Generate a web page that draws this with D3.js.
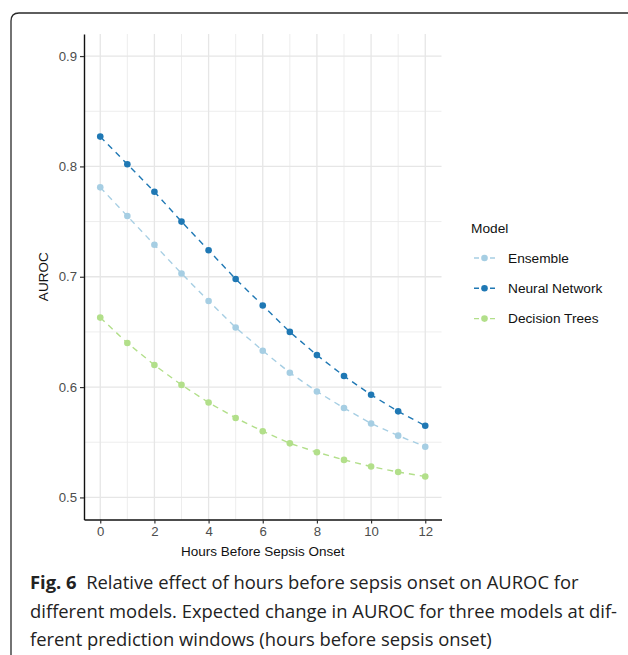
<!DOCTYPE html>
<html>
<head>
<meta charset="utf-8">
<script src="https://cdn.jsdelivr.net/npm/d3@7"></script>
<style>
  body { margin: 0; background: #fff; }
  svg { display: block; }
</style>
</head>
<body>
<div id="chart"></div>
<script>
// data
const hours = [0, 1, 2, 3, 4, 5, 6, 7, 8, 9, 10, 11, 12];
const models = ["Ensemble", "Neural Network", "Decision Trees"];
const ensemble = [0.781, 0.755, 0.729, 0.703, 0.678, 0.654, 0.633, 0.613, 0.596, 0.581, 0.567, 0.556, 0.546];
const neuralNetwork = [0.827, 0.802, 0.777, 0.750, 0.724, 0.698, 0.674, 0.650, 0.629, 0.610, 0.593, 0.578, 0.565];
const decisionTrees = [0.663, 0.640, 0.620, 0.602, 0.586, 0.572, 0.560, 0.549, 0.541, 0.534, 0.528, 0.523, 0.519];
const xTicks = [0, 2, 4, 6, 8, 10, 12];
const yTicks = [0.5, 0.6, 0.7, 0.8, 0.9];
const captionLines = [
  ["Fig. 6", "  Relative effect of hours before sepsis onset on AUROC for"],
  ["", "different models. Expected change in AUROC for three models at dif-"],
  ["", "ferent prediction windows (hours before sepsis onset)"]
];

const series = [ensemble, neuralNetwork, decisionTrees];
const colors = ["#a6cee3", "#1f78b4", "#b2df8a"];

const width = 628, height = 655;
const svg = d3.select("#chart").append("svg")
    .attr("width", width)
    .attr("height", height);

// outer frame (rounded top-left corner)
svg.append("path")
    .attr("d", "M11,660 L11,21 Q11,13 19,13 L630,13")
    .attr("fill", "none")
    .attr("stroke", "#2a2a2a")
    .attr("stroke-width", 1.3);

const font = "'Liberation Sans', Arial, sans-serif";

// scales, with the 5% expansion ggplot adds
const x = d3.scaleLinear().domain([-0.6, 12.6]).range([84, 441.5]);
const y = d3.scaleLinear().domain([0.48, 0.92]).range([519.5, 34]);

const grid = svg.append("g");
// minor grid
const xMinor = d3.range(1, 12, 2);
const yMinor = [0.55, 0.65, 0.75, 0.85];
grid.selectAll(".xminor").data(xMinor).enter().append("line")
    .attr("x1", d => x(d)).attr("x2", d => x(d))
    .attr("y1", y.range()[0]).attr("y2", y.range()[1])
    .attr("stroke", "#ebebeb").attr("stroke-width", 0.9);
grid.selectAll(".yminor").data(yMinor).enter().append("line")
    .attr("y1", d => y(d)).attr("y2", d => y(d))
    .attr("x1", x.range()[0]).attr("x2", x.range()[1])
    .attr("stroke", "#ebebeb").attr("stroke-width", 0.9);
// major grid
grid.selectAll(".xmajor").data(xTicks).enter().append("line")
    .attr("x1", d => x(d)).attr("x2", d => x(d))
    .attr("y1", y.range()[0]).attr("y2", y.range()[1])
    .attr("stroke", "#e6e6e6").attr("stroke-width", 1.3);
grid.selectAll(".ymajor").data(yTicks).enter().append("line")
    .attr("y1", d => y(d)).attr("y2", d => y(d))
    .attr("x1", x.range()[0]).attr("x2", x.range()[1])
    .attr("stroke", "#e6e6e6").attr("stroke-width", 1.3);

// axes
const xAxis = svg.append("g")
    .attr("transform", `translate(0,${y.range()[0]})`)
    .call(d3.axisBottom(x).tickValues(xTicks).tickSize(4).tickPadding(3).tickSizeOuter(0));
const yAxis = svg.append("g")
    .attr("transform", `translate(${x.range()[0]},0)`)
    .call(d3.axisLeft(y).tickValues(yTicks).tickSize(4).tickPadding(3).tickSizeOuter(0).tickFormat(d3.format(".1f")));

[xAxis, yAxis].forEach(a => {
  a.select(".domain").attr("stroke", "#111").attr("stroke-width", 1.4);
  a.selectAll(".tick line").attr("stroke", "#333").attr("stroke-width", 1.2);
  a.selectAll(".tick text").attr("fill", "#4d4d4d").style("font-family", font).style("font-size", "13.2px");
});

// axis titles
svg.append("text")
    .attr("x", (x(0) + x(12)) / 2).attr("y", 556)
    .attr("text-anchor", "middle")
    .style("font-family", font).style("font-size", "13.5px").attr("fill", "#111")
    .text("Hours Before Sepsis Onset");
svg.append("text")
    .attr("transform", `translate(48,${(y.range()[0] + y.range()[1]) / 2}) rotate(-90)`)
    .attr("text-anchor", "middle")
    .style("font-family", font).style("font-size", "13.5px").attr("fill", "#111")
    .text("AUROC");

// lines and points
const line = d3.line().x((d, i) => x(hours[i])).y(d => y(d));
series.forEach((s, k) => {
  svg.append("path")
      .datum(s)
      .attr("d", line)
      .attr("fill", "none")
      .attr("stroke", colors[k])
      .attr("stroke-width", 1.4)
      .attr("stroke-dasharray", "6,5");
});
series.forEach((s, k) => {
  svg.selectAll(null).data(s).enter().append("circle")
      .attr("cx", (d, i) => x(hours[i]))
      .attr("cy", d => y(d))
      .attr("r", 3.3)
      .attr("fill", colors[k]);
});

// legend
const legend = svg.append("g").attr("transform", "translate(471,0)");
legend.append("text")
    .attr("x", 0).attr("y", 233)
    .style("font-family", font).style("font-size", "13.7px").attr("fill", "#111")
    .text("Model");
const items = legend.selectAll(".item").data(models).enter().append("g")
    .attr("transform", (d, i) => `translate(0,${258 + i * 30.3})`);
items.append("line")
    .attr("x1", 3).attr("x2", 24).attr("y1", 0).attr("y2", 0)
    .attr("stroke", (d, i) => colors[i]).attr("stroke-width", 1.4)
    .attr("stroke-dasharray", "5,3");
items.append("circle")
    .attr("cx", 13.5).attr("cy", 0).attr("r", 3.3)
    .attr("fill", (d, i) => colors[i]);
items.append("text")
    .attr("x", 37).attr("y", 0).attr("dy", "0.35em")
    .style("font-family", font).style("font-size", "13.7px").attr("fill", "#111")
    .text(d => d);

// caption
const capFont = "'Open Sans', 'Noto Sans', sans-serif";
const cap = svg.append("g");
captionLines.forEach((l, i) => {
  const t = cap.append("text")
      .attr("x", 30).attr("y", 589 + i * 28.5)
      .style("font-family", capFont).style("font-size", "18.4px")
      .attr("fill", "#222")
      .attr("xml:space", "preserve")
      .style("white-space", "pre");
  if (l[0]) t.append("tspan").style("font-weight", "bold").text(l[0]);
  t.append("tspan").text(l[1]);
});
</script>
</body>
</html>
